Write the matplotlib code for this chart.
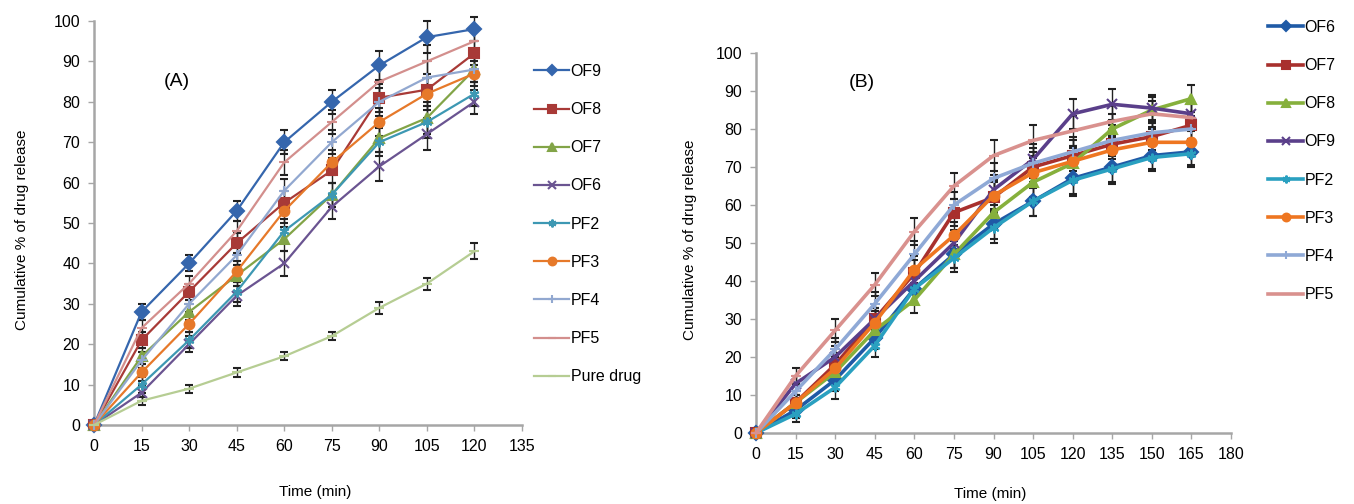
import matplotlib.pyplot as plt
import numpy as np

# ---- panel A data (orodispersible films vs patches, 0-120 min)
time_a = [0, 15, 30, 45, 60, 75, 90, 105, 120]
labels_a = ["OF9", "OF8", "OF7", "OF6", "PF2", "PF3", "PF4", "PF5", "Pure drug"]
of9_a = [0, 28, 40, 53, 70, 80, 89, 96, 98]
of8_a = [0, 21, 33, 45, 55, 63, 81, 83, 92]
of7_a = [0, 17, 28, 37, 46, 57, 71, 76, 88]
of6_a = [0, 8, 20, 32, 40, 54, 64, 72, 80]
pf2_a = [0, 10, 21, 33, 48, 57, 70, 75, 82]
pf3_a = [0, 13, 25, 38, 53, 65, 75, 82, 87]
pf4_a = [0, 16, 30, 42, 58, 70, 80, 86, 88]
pf5_a = [0, 24, 35, 48, 65, 75, 85, 90, 95]
pure_a = [0, 6, 9, 13, 17, 22, 29, 35, 43]
err_a = [0, 2, 2, 2.5, 3, 3, 3.5, 4, 3]
err_pure = [0, 1, 1, 1, 1, 1, 1.5, 1.5, 2]

# ---- panel B data (0-165 min)
time_b = [0, 15, 30, 45, 60, 75, 90, 105, 120, 135, 150, 165]
labels_b = ["OF6", "OF7", "OF8", "OF9", "PF2", "PF3", "PF4", "PF5"]
of6_b = [0, 6, 14, 25, 38, 47, 55, 61, 67, 70, 73, 74]
of7_b = [0, 8, 18, 30, 42, 58, 62, 70, 73, 76, 78, 81]
of8_b = [0, 8, 16, 27, 35, 47, 58, 66, 71, 80, 85, 88]
of9_b = [0, 13, 20, 30, 40, 50, 64, 72, 84, 86.5, 85.5, 84]
pf2_b = [0, 5, 12, 23, 38, 46, 54, 61, 66.5, 69.5, 72.5, 73.5]
pf3_b = [0, 8, 17, 29, 43, 52, 62.5, 68.5, 71.5, 74.5, 76.5, 76.5]
pf4_b = [0, 11, 22, 34, 47, 60, 67, 71, 74, 77, 79, 80]
pf5_b = [0, 15, 27, 39, 53, 65, 73, 77, 79.5, 82, 84, 83]
err_b = [0, 2, 3, 3, 3.5, 3.5, 4, 4, 4, 4, 3.5, 3.5]

colors = ["#3566ad", "#a83a37", "#82a447", "#6a5491",
          "#3d98b3", "#e6792a", "#92a8d0", "#d38f8d", "#b6cd93"]
colors_b = ["#1f5aa6", "#a8302d", "#86b03c", "#5a3f8a",
            "#2aa0c0", "#ee7621", "#8fa9d6", "#d9918e"]
markers = ["D", "s", "^", "x", (6, 2, 0), "o", "+", "_", "_"]

fig = plt.figure(figsize=(13.54, 5.04), dpi=100)
plt.rcParams["font.family"] = "Liberation Sans"


def style_axes(ax):
    for side in ["top", "right"]:
        ax.spines[side].set_visible(False)
    for side in ["left", "bottom"]:
        ax.spines[side].set_color("#a6a6a6")
        ax.spines[side].set_linewidth(1.8)
    ax.tick_params(direction="out", length=4, width=1, color="#a6a6a6",
                   labelsize=11.5, pad=6)


# ---------------- panel A
ax1 = fig.add_axes([94 / 1354, 79 / 504, 428 / 1354, 404 / 504])
series_a = [of9_a, of8_a, of7_a, of6_a, pf2_a, pf3_a, pf4_a, pf5_a, pure_a]
handles_a = []
for i, (lab, ys) in enumerate(zip(labels_a, series_a)):
    err = err_pure if lab == "Pure drug" else err_a
    cont = ax1.errorbar(time_a, ys, yerr=err, color=colors[i], marker=markers[i],
                        markersize=7, markeredgewidth=1.5, lw=1.6, ecolor="#222222",
                        elinewidth=1, capsize=3, label=lab, clip_on=False, zorder=3)
    handles_a.append(cont[0])
ax1.set_xlim(0, 135)
ax1.set_ylim(0, 100)
ax1.set_xticks(range(0, 136, 15))
ax1.set_yticks(range(0, 101, 10))
style_axes(ax1)
ax1.text(22, 84, "(A)", fontsize=14)
fig.text(315 / 1354, 1 - 492 / 504, "Time (min)", ha="center", va="center", fontsize=11)
fig.text(22 / 1354, 1 - 230 / 504, "Cumulative % of drug release", ha="center",
         va="center", rotation=90, fontsize=11)
ax1.legend(handles_a, labels_a, loc="upper left",
           bbox_to_anchor=(534 / 1354, 1 - 64 / 504),
           bbox_transform=fig.transFigure, frameon=False, fontsize=11.5,
           labelspacing=1.45, handlelength=2.2, handletextpad=0.1,
           borderaxespad=0, borderpad=0, markerscale=0.8)

# ---------------- panel B
ax2 = fig.add_axes([756 / 1354, 71 / 504, 475 / 1354, 380 / 504])
series_b = [of6_b, of7_b, of8_b, of9_b, pf2_b, pf3_b, pf4_b, pf5_b]
markers_b = ["D", "s", "^", "x", (6, 2, 0), "o", "+", "_"]
handles_b = []
for i, (lab, ys) in enumerate(zip(labels_b, series_b)):
    cont = ax2.errorbar(time_b, ys, yerr=err_b, color=colors_b[i], marker=markers_b[i],
                        markersize=7, markeredgewidth=1.5, lw=2.6, ecolor="#222222",
                        elinewidth=1, capsize=3, label=lab, clip_on=False, zorder=3)
    handles_b.append(cont[0])
ax2.set_xlim(0, 180)
ax2.set_ylim(0, 100)
ax2.set_xticks(range(0, 181, 15))
ax2.set_yticks(range(0, 101, 10))
style_axes(ax2)
ax2.text(35, 91, "(B)", fontsize=14)
fig.text(990 / 1354, 1 - 494 / 504, "Time (min)", ha="center", va="center", fontsize=11)
fig.text(690 / 1354, 1 - 240 / 504, "Cumulative % of drug release", ha="center",
         va="center", rotation=90, fontsize=11)
ax2.legend(handles_b, labels_b, loc="upper left",
           bbox_to_anchor=(1268 / 1354, 1 - 20 / 504),
           bbox_transform=fig.transFigure, frameon=False, fontsize=11.5,
           labelspacing=1.45, handlelength=2.2, handletextpad=0.1,
           borderaxespad=0, borderpad=0, markerscale=0.8)

fig.savefig("out.png", dpi=100)
